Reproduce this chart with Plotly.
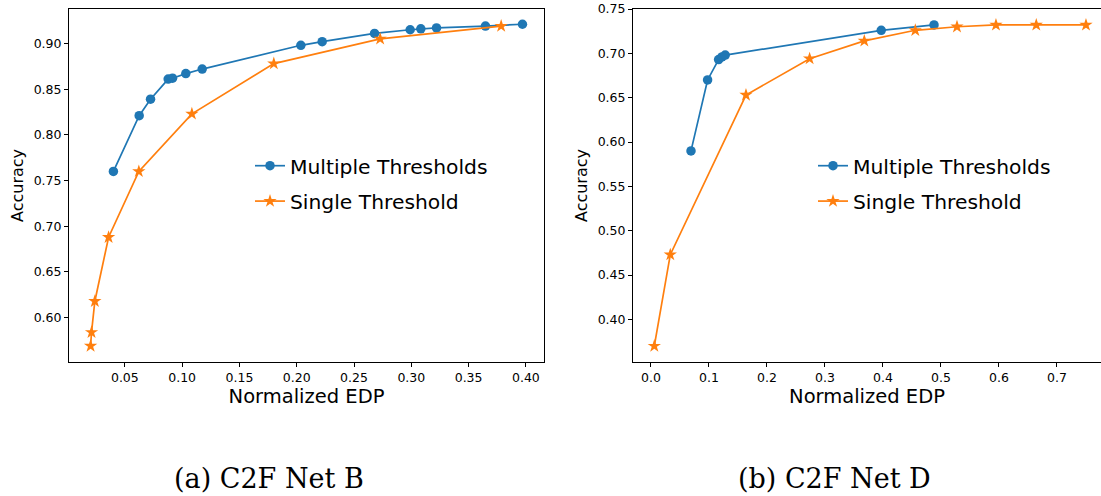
import plotly.graph_objects as go

# ---- data: (a) C2F Net B ----
b_multi_x = [0.040, 0.0625, 0.0724, 0.0878, 0.0916, 0.1032, 0.1175, 0.2036, 0.2222, 0.2679, 0.2990, 0.3083, 0.3220, 0.3647, 0.3970]
b_multi_y = [0.760, 0.821, 0.839, 0.861, 0.862, 0.867, 0.872, 0.898, 0.902, 0.911, 0.915, 0.916, 0.917, 0.919, 0.921]
b_single_x = [0.0201, 0.0209, 0.0238, 0.0358, 0.0622, 0.1085, 0.1800, 0.2728, 0.3784]
b_single_y = [0.569, 0.584, 0.618, 0.688, 0.760, 0.823, 0.878, 0.905, 0.919]

# ---- data: (b) C2F Net D ----
d_multi_x = [0.069, 0.0976, 0.1166, 0.1224, 0.128, 0.397, 0.488]
d_multi_y = [0.590, 0.670, 0.693, 0.696, 0.698, 0.726, 0.732]
d_single_x = [0.0057, 0.0333, 0.1638, 0.2735, 0.3678, 0.4557, 0.5276, 0.5948, 0.6643, 0.750]
d_single_y = [0.370, 0.473, 0.653, 0.694, 0.714, 0.726, 0.730, 0.732, 0.732, 0.732]

series_names = ["Multiple Thresholds", "Single Threshold"]
subcaptions = ["(a) C2F Net B", "(b) C2F Net D"]
x_title = "Normalized EDP"
y_title = "Accuracy"

BLUE = "#1f77b4"
ORANGE = "#ff7f0e"
W, H = 1101, 496

fig = go.Figure()

def add_pair(mx, my, sx, sy, xa, ya, legend):
    fig.add_trace(go.Scatter(x=mx, y=my, mode="lines+markers", name=series_names[0],
                             line=dict(color=BLUE, width=1.7),
                             marker=dict(symbol="circle", size=9.5, color=BLUE),
                             xaxis=xa, yaxis=ya, legend=legend, legendgroup=legend + "a"))
    fig.add_trace(go.Scatter(x=sx, y=sy, mode="lines+markers", name=series_names[1],
                             line=dict(color=ORANGE, width=1.7),
                             marker=dict(symbol="star", size=10, color=ORANGE),
                             xaxis=xa, yaxis=ya, legend=legend, legendgroup=legend + "b"))

add_pair(b_multi_x, b_multi_y, b_single_x, b_single_y, "x", "y", "legend")
add_pair(d_multi_x, d_multi_y, d_single_x, d_single_y, "x2", "y2", "legend2")

tickfont = dict(family="DejaVu Sans", size=12.5, color="black")
xtitlefont = dict(family="DejaVu Sans", size=19.5, color="black")
ytitlefont = dict(family="DejaVu Sans", size=16, color="black")
common = dict(showgrid=False, zeroline=False, showline=True, linecolor="black", linewidth=1,
              ticks="outside", ticklen=4, tickwidth=1, tickcolor="black", tickfont=tickfont,
              automargin=False)
legfont = dict(family="DejaVu Sans", size=20.3, color="black")

ydom = [1 - 362 / H, 1 - 9 / H]
fig.update_layout(
    width=W, height=H,
    margin=dict(l=0, r=0, t=0, b=0, autoexpand=False),
    paper_bgcolor="white", plot_bgcolor="white",
    xaxis=dict(domain=[69 / W, 544 / W], range=[0.00125, 0.4158], dtick=0.05, tick0=0,
               tickformat=".2f", mirror=True, anchor="y",
               title=dict(text=x_title, font=xtitlefont, standoff=4), **common),
    yaxis=dict(domain=ydom, range=[0.5515, 0.9377], dtick=0.05, tick0=0, tickformat=".2f",
               mirror=True, anchor="x",
               title=dict(text=y_title, font=ytitlefont, standoff=6), **common),
    xaxis2=dict(domain=[633 / W, 1.0], range=[-0.031, 0.7759], dtick=0.1, tick0=0,
                tickformat=".1f", mirror=True, anchor="y2",
                title=dict(text=x_title, font=xtitlefont, standoff=4), **common),
    yaxis2=dict(domain=ydom, range=[0.352, 0.750], dtick=0.05, tick0=0, tickformat=".2f",
                mirror=False, anchor="x2",
                title=dict(text=y_title, font=ytitlefont, standoff=6), **common),
    legend=dict(x=250 / W, y=1 - 146 / H, xanchor="left", yanchor="top", font=legfont,
                bgcolor="rgba(255,255,255,0)", tracegroupgap=6, itemwidth=30),
    legend2=dict(x=813 / W, y=1 - 146 / H, xanchor="left", yanchor="top", font=legfont,
                 bgcolor="rgba(255,255,255,0)", tracegroupgap=6, itemwidth=30),
    showlegend=True,
)

for text, cx in zip(subcaptions, [269, 834]):
    fig.add_annotation(text=text, x=cx / W, y=1 - 478 / H, xref="paper", yref="paper",
                       xanchor="center", yanchor="middle", showarrow=False,
                       font=dict(family="DejaVu Serif", size=27, color="black"))

fig.write_html("out.html")
